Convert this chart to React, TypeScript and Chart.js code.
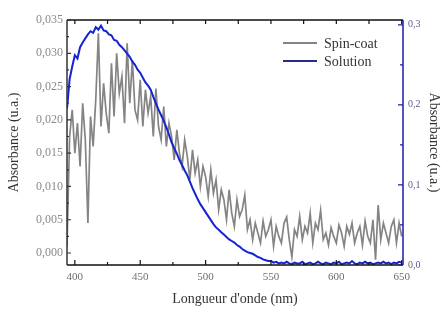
import React, { useEffect, useRef } from "react";
import { Chart, registerables } from "chart.js";
Chart.register(...registerables);

const wavelengths = [
  394, 396, 398, 400, 402, 404, 406, 408, 410, 412,
  414, 416, 418, 420, 422, 424, 426, 428, 430, 432,
  434, 436, 438, 440, 442, 444, 446, 448, 450, 452,
  454, 456, 458, 460, 462, 464, 466, 468, 470, 472,
  474, 476, 478, 480, 482, 484, 486, 488, 490, 492,
  494, 496, 498, 500, 502, 504, 506, 508, 510, 512,
  514, 516, 518, 520, 522, 524, 526, 528, 530, 532,
  534, 536, 538, 540, 542, 544, 546, 548, 550, 552,
  554, 556, 558, 560, 562, 564, 566, 568, 570, 572,
  574, 576, 578, 580, 582, 584, 586, 588, 590, 592,
  594, 596, 598, 600, 602, 604, 606, 608, 610, 612,
  614, 616, 618, 620, 622, 624, 626, 628, 630, 632,
  634, 636, 638, 640, 642, 644, 646, 648, 650,
];

const spinCoat = [
  0.0010, 0.0175, 0.0215, 0.0150, 0.0195, 0.0130, 0.0225, 0.0170, 0.0045, 0.0205,
  0.0160, 0.0230, 0.0330, 0.0190, 0.0255, 0.0210, 0.0180, 0.0285, 0.0205, 0.0300,
  0.0240, 0.0265, 0.0195, 0.0315, 0.0225, 0.0290, 0.0215, 0.0200, 0.0260, 0.0190,
  0.0245, 0.0210, 0.0235, 0.0175, 0.0247, 0.0190, 0.0170, 0.0220, 0.0160, 0.0195,
  0.0175, 0.0140, 0.0185, 0.0150, 0.0130, 0.0170, 0.0145, 0.0110, 0.0155, 0.0120,
  0.0140, 0.0100, 0.0130, 0.0115, 0.0085, 0.0125, 0.0090, 0.0110, 0.0065, 0.0095,
  0.0080, 0.0050, 0.0095, 0.0060, 0.0040, 0.0080, 0.0055, 0.0065, 0.0087, 0.0035,
  0.0050, 0.0020, 0.0045, 0.0030, 0.0015, 0.0048, 0.0025, 0.0035, 0.0050, 0.0010,
  0.0040, 0.0025, 0.0015, 0.0045, 0.0054, 0.0020, -0.0006, 0.0035, 0.0025, 0.0055,
  0.0020, 0.0040, 0.0030, 0.0060, 0.0015, 0.0045, 0.0035, 0.0064, 0.0020, 0.0030,
  0.0012, 0.0038, 0.0025, 0.0015, 0.0042, 0.0030, 0.0010, 0.0040, 0.0028, 0.0045,
  0.0015, 0.0030, 0.0040, 0.0012, 0.0048, 0.0025, 0.0015, 0.0050, -0.0010, 0.0072,
  0.0020, 0.0045, 0.0030, 0.0015, 0.0040, 0.0050, 0.0015, 0.0045, 0.0025,
];

const solution = [
  0.195, 0.232, 0.248, 0.262, 0.258, 0.272, 0.278, 0.283, 0.288, 0.292,
  0.290, 0.297, 0.294, 0.299, 0.293, 0.292, 0.288, 0.287, 0.281, 0.280,
  0.275, 0.272, 0.268, 0.264, 0.260, 0.254, 0.250, 0.244, 0.240, 0.234,
  0.228, 0.224, 0.219, 0.210, 0.202, 0.194, 0.187, 0.180, 0.172, 0.163,
  0.153, 0.146, 0.139, 0.131, 0.125, 0.118, 0.112, 0.104, 0.096, 0.089,
  0.082, 0.076, 0.071, 0.066, 0.061, 0.056, 0.051, 0.047, 0.044, 0.041,
  0.038, 0.035, 0.032, 0.030, 0.028, 0.025, 0.023, 0.020, 0.018, 0.016,
  0.015, 0.014, 0.012, 0.010, 0.009, 0.007, 0.006, 0.005, 0.005, 0.003,
  0.004, 0.002, 0.003, 0.002, 0.004, 0.002, 0.001, 0.003, 0.002, 0.002,
  0.004, 0.001, 0.002, 0.003, 0.001, 0.002, 0.004, 0.002, 0.001, 0.003,
  0.002, 0.001, 0.003, 0.002, 0.004, 0.001, 0.002, 0.003, 0.002, 0.005,
  0.002, 0.001, 0.003, 0.002, 0.004, 0.002, 0.003, 0.001, 0.002, 0.003,
  0.002, 0.004, 0.002, 0.003, 0.001, 0.003, 0.002, 0.004, 0.003,
];

const xTicks = [400, 450, 500, 550, 600, 650];
const leftTicks = [0, 0.005, 0.01, 0.015, 0.02, 0.025, 0.03, 0.035];
const rightTicks = [0, 0.1, 0.2, 0.3];
const seriesNames = ["Spin-coat", "Solution"];

const GRAY = "#848484";
const BLUE = "#1424d2";
const AXIS_BLUE = "#1c1ca8";
const FONT = "'Liberation Serif', 'Times New Roman', serif";

const fmt = (v: number, d: number) => v.toFixed(d).replace(".", ",");

const mids = (arr: number[]) => arr.slice(0, -1).map((v, i) => (v + arr[i + 1]) / 2);

const framePlugin = {
  id: "frame",
  afterDraw(chart: any) {
    const { ctx, chartArea, scales } = chart;
    const { left, right, top, bottom } = chartArea;
    ctx.save();
    ctx.lineWidth = 1.5;
    ctx.strokeStyle = "#111";
    ctx.beginPath();
    ctx.moveTo(left, top); ctx.lineTo(right, top);
    ctx.moveTo(left, bottom); ctx.lineTo(right, bottom);
    ctx.stroke();
    ctx.strokeStyle = "#333";
    ctx.beginPath();
    ctx.moveTo(left, top); ctx.lineTo(left, bottom);
    ctx.stroke();
    ctx.strokeStyle = AXIS_BLUE;
    ctx.beginPath();
    ctx.moveTo(right, top); ctx.lineTo(right, bottom);
    ctx.stroke();

    ctx.strokeStyle = "#111";
    ctx.lineWidth = 1.2;
    const xs = scales.x;
    ctx.beginPath();
    xTicks.forEach((v) => {
      const p = xs.getPixelForValue(v);
      ctx.moveTo(p, bottom); ctx.lineTo(p, bottom - 5);
      ctx.moveTo(p, top); ctx.lineTo(p, top + 4);
    });
    mids(xTicks).forEach((v) => {
      const p = xs.getPixelForValue(v);
      ctx.moveTo(p, bottom); ctx.lineTo(p, bottom - 3);
      ctx.moveTo(p, top); ctx.lineTo(p, top + 4);
    });
    ctx.stroke();

    ctx.strokeStyle = "#333";
    const ys = scales.y;
    ctx.beginPath();
    leftTicks.forEach((v) => {
      const p = ys.getPixelForValue(v);
      ctx.moveTo(left, p); ctx.lineTo(left + 4, p);
    });
    mids(leftTicks).forEach((v) => {
      const p = ys.getPixelForValue(v);
      ctx.moveTo(left, p); ctx.lineTo(left + 2, p);
    });
    ctx.stroke();

    ctx.strokeStyle = AXIS_BLUE;
    const y1 = scales.y1;
    ctx.beginPath();
    rightTicks.forEach((v) => {
      const p = y1.getPixelForValue(v);
      ctx.moveTo(right, p); ctx.lineTo(right - 5, p);
    });
    mids(rightTicks).forEach((v) => {
      const p = y1.getPixelForValue(v);
      ctx.moveTo(right, p); ctx.lineTo(right - 3, p);
    });
    ctx.stroke();

    const colors = [GRAY, "#2a2a86"];
    const lx0 = 283, lx1 = 317, tx = 324;
    const rows = [43, 61];
    ctx.font = `14px ${FONT}`;
    ctx.textBaseline = "middle";
    ctx.textAlign = "left";
    seriesNames.forEach((name, i) => {
      ctx.strokeStyle = colors[i];
      ctx.lineWidth = 2;
      ctx.beginPath();
      ctx.moveTo(lx0, rows[i]); ctx.lineTo(lx1, rows[i]);
      ctx.stroke();
      ctx.fillStyle = "#333";
      ctx.fillText(name, tx, rows[i] + 1);
    });
    ctx.restore();
  },
};

export default function App() {
  const ref = useRef<HTMLCanvasElement>(null);
  useEffect(() => {
    document.body.style.margin = "0";
    const canvas = ref.current;
    if (!canvas) return;
    const chart = new Chart(canvas, {
      type: "line",
      data: {
        datasets: [
          {
            label: seriesNames[1],
            data: wavelengths.map((w, i) => ({ x: w, y: solution[i] })),
            borderColor: BLUE,
            borderWidth: 2,
            pointRadius: 0,
            tension: 0,
            yAxisID: "y1",
            order: 0,
          },
          {
            label: seriesNames[0],
            data: wavelengths.map((w, i) => ({ x: w, y: spinCoat[i] })),
            borderColor: GRAY,
            borderWidth: 1.7,
            pointRadius: 0,
            tension: 0,
            yAxisID: "y",
            order: 1,
          },
        ],
      },
      options: {
        responsive: false,
        animation: false,
        devicePixelRatio: 1,
        layout: { padding: { top: 20, left: 0, right: 0, bottom: 0 } },
        plugins: { legend: { display: false }, tooltip: { enabled: false } },
        scales: {
          x: {
            type: "linear",
            min: 394,
            max: 651,
            afterBuildTicks: (s: any) => { s.ticks = xTicks.map((v) => ({ value: v })); },
            afterFit: (s: any) => { s.height = 44; },
            grid: { display: false, drawTicks: false },
            border: { display: false },
            ticks: {
              callback: (v: any) => String(v),
              color: "#6e6e6e",
              font: { family: FONT, size: 11 },
              padding: 6,
              maxRotation: 0,
              autoSkip: false,
            },
            title: {
              display: true,
              text: "Longueur d'onde (nm)",
              color: "#333",
              font: { family: FONT, size: 14 },
              padding: { top: 0, bottom: 1 },
            },
          },
          y: {
            type: "linear",
            position: "left",
            min: -0.0018,
            max: 0.035,
            afterBuildTicks: (s: any) => { s.ticks = leftTicks.map((v) => ({ value: v })); },
            afterFit: (s: any) => { s.width = 67; },
            grid: { display: false, drawTicks: false },
            border: { display: false },
            ticks: {
              callback: (v: any) => fmt(Number(v), 3),
              color: "#8a8a8a",
              font: { family: FONT, size: 12 },
              padding: 4,
            },
            title: {
              display: true,
              text: "Absorbance (u.a.)",
              color: "#333",
              font: { family: FONT, size: 14 },
              padding: { top: 6, bottom: 0 },
            },
          },
          y1: {
            type: "linear",
            position: "right",
            min: 0,
            max: 0.306,
            afterBuildTicks: (s: any) => { s.ticks = rightTicks.map((v) => ({ value: v })); },
            afterFit: (s: any) => { s.width = 40; },
            grid: { display: false, drawTicks: false },
            border: { display: false },
            ticks: {
              callback: (v: any) => fmt(Number(v), 1),
              color: "#5c5c8c",
              font: { family: FONT, size: 10 },
              padding: 5,
            },
            title: {
              display: true,
              text: "Absorbance (u.a.)",
              color: "#333",
              font: { family: FONT, size: 14 },
              padding: { top: 1, bottom: 0 },
            },
          },
        },
      },
      plugins: [framePlugin],
    } as any);
    return () => chart.destroy();
  }, []);
  return (
    <div style={{ width: 443, height: 309 }}>
      <canvas ref={ref} width={443} height={309} style={{ display: "block" }} />
    </div>
  );
}
